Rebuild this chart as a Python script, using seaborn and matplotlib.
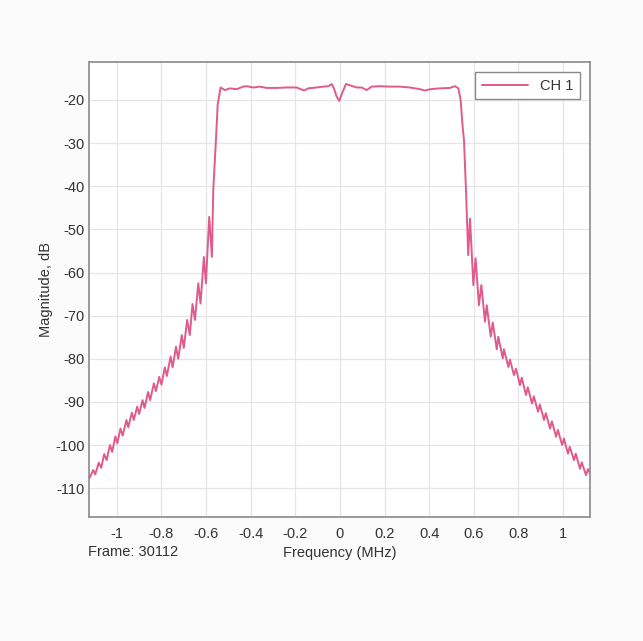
import numpy as np
import pandas as pd
import matplotlib
matplotlib.use("Agg")
import matplotlib.pyplot as plt
import seaborn as sns

# values (MHz, dB)
left_freq = [-1.122, -1.106, -1.097, -1.081, -1.070, -1.057, -1.046, -1.031, -1.021,
             -1.007, -0.998, -0.984, -0.974, -0.957, -0.949, -0.933, -0.924, -0.909,
             -0.900, -0.885, -0.876, -0.860, -0.851, -0.834, -0.825, -0.810, -0.800,
             -0.785, -0.776, -0.759, -0.750, -0.735, -0.725, -0.709, -0.700, -0.685,
             -0.673, -0.661, -0.650, -0.635, -0.625, -0.610, -0.601, -0.586, -0.574,
             -0.568, -0.556, -0.548]
left_db = [-107.6, -105.8, -106.8, -104.1, -105.3, -102.1, -103.5, -100.0, -101.6,
           -98.0, -99.6, -96.2, -97.8, -94.2, -95.9, -92.5, -94.2, -91.1,
           -92.8, -89.6, -91.4, -87.7, -89.6, -85.7, -87.5, -84.2, -86.0,
           -82.0, -84.0, -79.5, -82.0, -77.2, -80.0, -74.5, -77.5, -71.0,
           -74.5, -67.3, -71.0, -62.5, -67.2, -56.4, -62.5, -47.1, -56.4,
           -41.0, -29.3, -21.0]

pass_freq = [-0.535, -0.516, -0.493, -0.463, -0.434, -0.418, -0.389, -0.359, -0.329,
             -0.284, -0.239, -0.194, -0.161, -0.142, -0.105, -0.075, -0.052, -0.037,
             -0.027, -0.015, -0.003, 0.009, 0.027, 0.045, 0.075, 0.097, 0.120,
             0.142, 0.179, 0.224, 0.269, 0.314, 0.359, 0.381, 0.404, 0.448,
             0.493, 0.516, 0.531]
pass_db = [-17.1, -17.7, -17.3, -17.5, -16.9, -16.8, -17.1, -16.9, -17.2,
           -17.2, -17.1, -17.1, -17.8, -17.3, -17.1, -16.9, -16.8, -16.3,
           -17.3, -19.2, -20.2, -18.5, -16.3, -16.6, -17.1, -17.1, -17.7,
           -16.9, -16.8, -16.9, -16.9, -17.1, -17.5, -17.8, -17.5, -17.3,
           -17.2, -16.8, -17.3]

right_freq = [0.541, 0.550, 0.556, 0.565, 0.575, 0.583, 0.598, 0.608, 0.623,
              0.634, 0.650, 0.658, 0.676, 0.685, 0.703, 0.710, 0.730, 0.735,
              0.755, 0.762, 0.780, 0.789, 0.807, 0.815, 0.834, 0.842, 0.861,
              0.869, 0.888, 0.896, 0.915, 0.923, 0.942, 0.950, 0.969, 0.977,
              0.996, 1.004, 1.022, 1.030, 1.049, 1.057, 1.076, 1.084, 1.103,
              1.112, 1.121]
right_db = [-20.0, -26.2, -29.3, -40.9, -56.0, -47.5, -62.9, -56.7, -67.6,
            -62.9, -71.4, -67.6, -74.9, -71.6, -77.8, -74.9, -79.9, -77.8,
            -81.9, -80.2, -83.8, -82.3, -86.1, -84.4, -88.4, -86.6, -90.4,
            -88.7, -92.3, -90.6, -94.2, -92.6, -96.2, -94.5, -98.1, -96.5,
            -100.0, -98.5, -102.0, -100.4, -103.5, -102.0, -105.5, -104.0, -107.0,
            -105.6, -106.6]

x_ticks = [-1, -0.8, -0.6, -0.4, -0.2, 0, 0.2, 0.4, 0.6, 0.8, 1]
x_ticklabels = ["-1", "-0.8", "-0.6", "-0.4", "-0.2", "0", "0.2", "0.4", "0.6", "0.8", "1"]
y_ticks = [-20, -30, -40, -50, -60, -70, -80, -90, -100, -110]
y_ticklabels = ["-20", "-30", "-40", "-50", "-60", "-70", "-80", "-90", "-100", "-110"]

df = pd.DataFrame({
    "freq": left_freq + pass_freq + right_freq,
    "mag": left_db + pass_db + right_db,
})

sns.set_theme(style="whitegrid")
plt.rcParams["font.family"] = ["Liberation Sans", "DejaVu Sans"]
plt.rcParams["axes.unicode_minus"] = False

fig = plt.figure(figsize=(6.43, 6.41), dpi=100, facecolor="#fbfbfb")
ax = fig.add_axes([0.1384, 0.1934, 0.7792, 0.7098])
ax.set_facecolor("white")

sns.lineplot(data=df, x="freq", y="mag", sort=False, estimator=None,
             color="#e05a8c", linewidth=1.4, label="CH 1", ax=ax)

ax.set_xlim(-1.125, 1.121)
ax.set_ylim(-116.7, -11.2)
ax.set_xticks(x_ticks)
ax.set_xticklabels(x_ticklabels)
ax.set_yticks(y_ticks)
ax.set_yticklabels(y_ticklabels)
ax.tick_params(axis="both", labelsize=10.5, colors="#333333", length=0)
ax.tick_params(axis="x", pad=7)
ax.tick_params(axis="y", pad=3)
ax.grid(True, color="#e6e6e6", linewidth=0.9)
for s in ax.spines.values():
    s.set_color("#8a8a8a")
    s.set_linewidth(1.2)

ax.set_xlabel("Frequency (MHz)", fontsize=10.5, color="#333333", labelpad=4)
ax.set_ylabel("Magnitude, dB", fontsize=10.5, color="#333333", labelpad=2)
fig.text(0.137, 0.139, "Frame: 30112", fontsize=10.5, color="#333333", va="center")

leg = ax.legend(loc="upper right", fancybox=False, framealpha=1, fontsize=10.5,
                handlelength=3.2, borderaxespad=0.7, borderpad=0.45)
leg.get_frame().set_edgecolor("#8a8a8a")
leg.get_frame().set_linewidth(1.0)
for t in leg.get_texts():
    t.set_color("#333333")

plt.savefig("out.png", dpi=100, facecolor=fig.get_facecolor())
